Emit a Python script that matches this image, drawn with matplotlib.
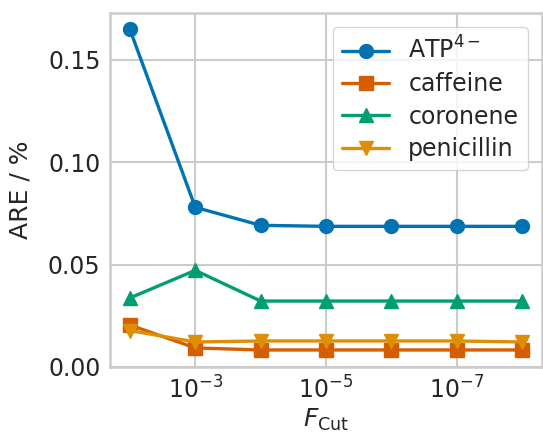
import numpy as np
import matplotlib
matplotlib.use("Agg")
import matplotlib.pyplot as plt
import seaborn as sns

# cutoff values and average relative errors
f_cut = [1e-2, 1e-3, 1e-4, 1e-5, 1e-6, 1e-7, 1e-8]
atp = [0.165, 0.078, 0.0692, 0.0687, 0.0687, 0.0687, 0.0687]
caffeine = [0.0205, 0.0093, 0.0083, 0.0083, 0.0083, 0.0083, 0.0083]
coronene = [0.0337, 0.0472, 0.0322, 0.0322, 0.0322, 0.0322, 0.0322]
penicillin = [0.0178, 0.0122, 0.0127, 0.0127, 0.0127, 0.0127, 0.0122]

x_ticks = [1e-3, 1e-5, 1e-7]

sns.set_style("whitegrid")
plt.rcParams['font.family'] = ['DejaVu Sans']
plt.rcParams['font.size'] = 17
plt.rcParams['grid.linewidth'] = 1.5

fig = plt.figure(figsize=(5.43, 4.4), dpi=100)
ax = fig.add_axes([0.203, 0.166, 0.795, 0.804])

STYLE = [
	(atp, r'ATP$^{4-}$', 'o', '#0173b2'),
	(caffeine, 'caffeine', 's', '#d55e00'),
	(coronene, 'coronene', '^', '#029e73'),
	(penicillin, 'penicillin', 'v', '#de8f05'),
]
for vals, lab, mk, col in STYLE:
	ax.plot(f_cut, vals, marker=mk, color=col, linewidth=2.4, markersize=10, label=lab)

ax.set_xscale('log')
ax.invert_xaxis()
ax.set_xticks(x_ticks)
ax.xaxis.set_minor_locator(matplotlib.ticker.NullLocator())
ax.set_yticks([0.0, 0.05, 0.10, 0.15])
ax.yaxis.set_major_formatter(matplotlib.ticker.FormatStrFormatter('%.2f'))
ax.tick_params(labelsize=17, colors='#262626')
ax.set_xlabel(r'$F_\mathrm{Cut}$', fontsize=18, color='#262626', labelpad=2)
ax.set_ylabel('ARE / %', fontsize=18, color='#262626', labelpad=11)
for s in ax.spines.values():
	s.set_linewidth(1.8)

ax.legend(loc='upper right', fontsize=17, handlelength=2.0, borderaxespad=0.6,
	labelspacing=0.35)

fig.savefig('out.png', dpi=100)
plt.close()
